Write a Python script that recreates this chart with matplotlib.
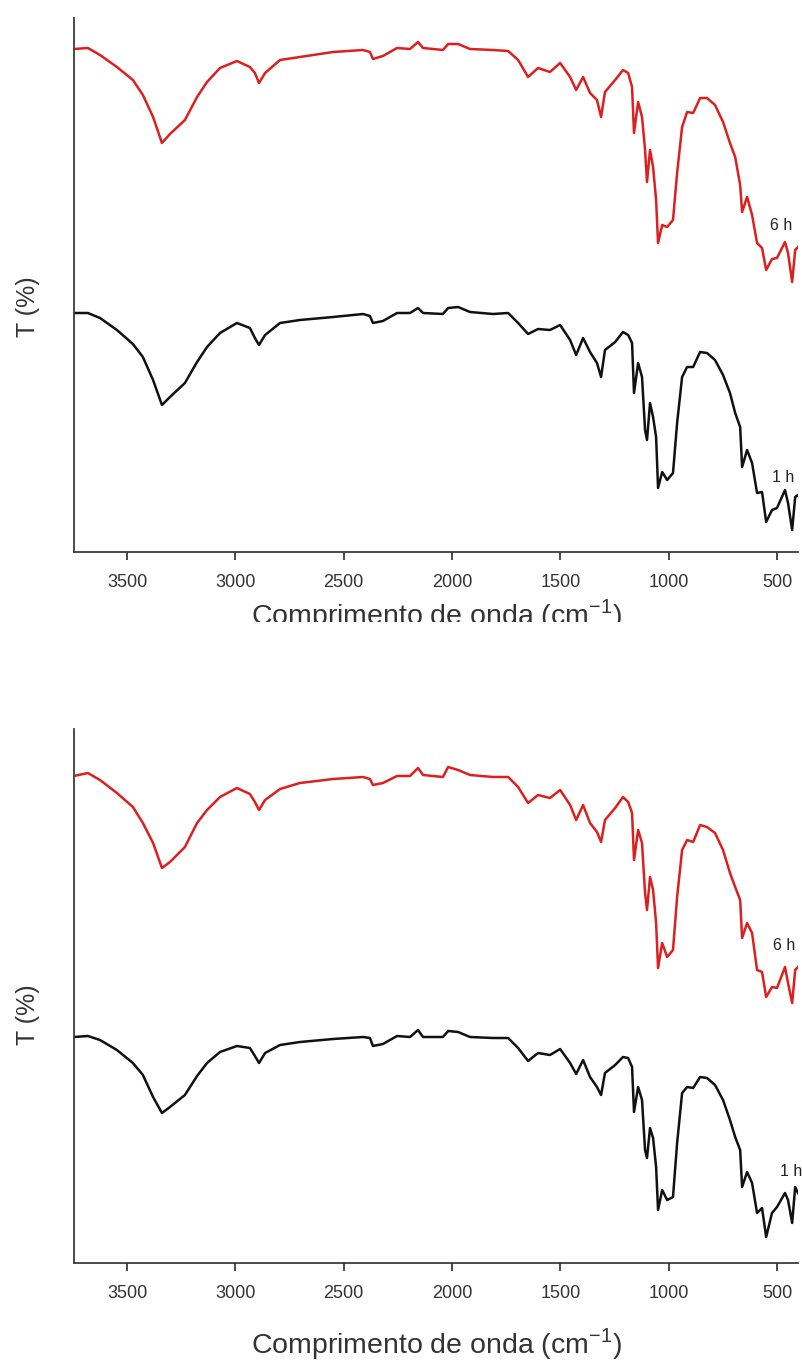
import matplotlib
matplotlib.use("Agg")
import matplotlib.pyplot as plt
from matplotlib.patches import Rectangle

plt.rcParams['font.family'] = ['Liberation Sans', 'DejaVu Sans']

# Wavenumber grid (cm^-1) shared by all spectra
wavenumber = [3745, 3681, 3625, 3547, 3473, 3427, 3380, 3339, 3302, 3233,
              3177, 3131, 3071, 2993, 2933, 2910, 2891, 2863, 2794, 2702,
              2549, 2411, 2379, 2365, 2319, 2254, 2194, 2157, 2134, 2042,
              2018, 1972, 1917, 1811, 1741, 1695, 1649, 1603, 1548, 1501,
              1455, 1427, 1395, 1363, 1331, 1312, 1294, 1247, 1211, 1187,
              1169, 1160, 1141, 1123, 1109, 1100, 1086, 1072, 1058, 1049,
              1030, 1007, 980, 961, 938, 915, 887, 855, 823, 786,
              749, 717, 693, 670, 661, 638, 615, 592, 569, 550,
              523, 500, 463, 449, 430, 416, 403]

# Upper panel (offset transmittance, arbitrary units)
t_6h_a = [100.6, 100.8, 99.4, 97.0, 94.4, 91.4, 87.0, 81.8, 83.6, 86.4,
          91.0, 94.0, 96.8, 98.2, 97.0, 95.8, 93.8, 95.8, 98.4, 99.0,
          100.0, 100.4, 100.0, 98.6, 99.2, 100.8, 100.6, 102.0, 100.8, 100.4,
          101.6, 101.6, 100.6, 100.4, 100.2, 98.4, 95.0, 96.8, 96.0, 97.8,
          95.0, 92.4, 95.0, 91.8, 90.4, 87.0, 92.0, 94.4, 96.4, 95.8,
          93.0, 83.8, 90.0, 87.0, 80.4, 74.0, 80.4, 77.0, 70.4, 61.8,
          65.4, 65.0, 66.4, 75.8, 85.0, 88.0, 87.8, 90.8, 90.8, 89.4,
          86.0, 81.8, 79.0, 73.4, 68.0, 71.0, 67.4, 61.8, 60.8, 56.4,
          58.6, 58.8, 62.0, 59.8, 54.0, 60.4, 61.0]

t_1h_a = [47.8, 47.8, 46.8, 44.4, 41.6, 39.0, 34.4, 29.4, 31.0, 33.8,
          38.0, 41.0, 43.8, 45.8, 44.8, 42.8, 41.4, 43.4, 45.8, 46.4,
          47.0, 47.6, 47.2, 45.8, 46.2, 47.8, 47.8, 48.8, 47.8, 47.6,
          48.8, 49.0, 48.0, 47.6, 47.8, 45.8, 43.6, 44.6, 44.4, 45.4,
          42.4, 39.4, 42.8, 40.0, 37.8, 35.0, 40.4, 42.0, 44.0, 43.4,
          41.8, 31.8, 37.8, 35.0, 24.4, 22.4, 29.8, 27.0, 23.0, 12.8,
          16.0, 14.4, 15.8, 25.8, 35.0, 37.0, 37.0, 40.0, 39.8, 38.4,
          35.4, 31.8, 27.8, 25.0, 17.0, 20.4, 17.8, 11.8, 12.0, 6.0,
          8.4, 8.8, 12.4, 9.8, 4.4, 11.0, 11.4]

# Lower panel
t_6h_b = [97.4, 98.0, 96.6, 94.0, 91.2, 88.0, 84.0, 79.0, 80.2, 83.2,
          88.0, 90.6, 93.2, 95.0, 93.8, 92.2, 90.6, 92.6, 94.8, 96.0,
          96.8, 97.2, 96.8, 95.6, 96.0, 97.4, 97.4, 99.0, 97.6, 97.2,
          99.2, 98.6, 97.6, 97.2, 97.2, 95.2, 92.0, 93.6, 93.0, 94.6,
          91.6, 88.6, 91.6, 88.0, 86.2, 84.2, 88.6, 91.0, 93.2, 92.2,
          90.0, 80.6, 86.6, 84.0, 74.0, 70.6, 77.2, 74.6, 68.0, 59.0,
          64.0, 61.2, 62.6, 73.2, 82.6, 84.6, 84.2, 87.6, 87.2, 86.0,
          82.6, 78.0, 75.2, 72.6, 65.0, 68.0, 66.0, 58.6, 58.2, 53.2,
          55.2, 55.0, 59.2, 56.0, 52.0, 58.6, 59.2]

t_1h_b = [45.2, 45.4, 44.6, 42.6, 40.0, 37.6, 33.2, 30.0, 31.2, 33.6,
          37.4, 40.0, 42.2, 43.4, 43.0, 41.4, 40.0, 42.0, 43.6, 44.2,
          44.8, 45.2, 45.0, 43.4, 43.8, 45.4, 45.2, 46.6, 45.2, 45.2,
          46.4, 46.2, 45.2, 45.0, 45.0, 43.0, 40.4, 42.0, 41.6, 42.8,
          40.0, 37.8, 40.6, 37.2, 35.2, 33.6, 38.0, 39.6, 41.2, 41.0,
          39.2, 30.2, 35.2, 32.6, 22.6, 21.0, 27.0, 25.0, 19.2, 10.6,
          14.6, 12.6, 13.2, 24.0, 34.0, 35.2, 35.0, 37.2, 37.0, 35.6,
          32.6, 28.6, 25.2, 22.6, 15.2, 18.2, 16.0, 10.0, 11.0, 5.2,
          10.0, 11.2, 14.0, 12.6, 8.0, 15.2, 14.0]

x_ticks = [3500, 3000, 2500, 2000, 1500, 1000, 500]
series_labels = ["6 h", "1 h"]

RED = '#dc1f1f'
BLACK = '#111111'
AXIS = '#3c3c3c'
TEXT = '#333333'

fig = plt.figure(figsize=(8.03, 13.63), dpi=100)
W, H = 803, 1363

panels = [
    dict(top=18, bottom=552, red=t_6h_a, black=t_1h_a,
         lab6=(532, 65.4), lab1=(523, 15.0), ytick=47.8,
         ylab_y=0.46, xlab_y=-0.0845),
    dict(top=729, bottom=1263, red=t_6h_b, black=t_1h_b,
         lab6=(518, 63.6), lab1=(486, 18.2), ytick=45.2,
         ylab_y=0.465, xlab_y=-0.118),
]

for p in panels:
    left, right = 74, 798
    ax = fig.add_axes([left / W, (H - p['bottom']) / H,
                       (right - left) / W, (p['bottom'] - p['top']) / H])
    ax.plot(wavenumber, p['red'], color=RED, lw=1.8, solid_joinstyle='round')
    ax.plot(wavenumber, p['black'], color=BLACK, lw=1.8, solid_joinstyle='round')
    ax.set_xlim(3745, 403)
    ax.set_ylim(0, 106.8)

    ax.text(p['lab6'][0], p['lab6'][1], series_labels[0], fontsize=11.5,
            color='#222222', ha='left', va='center', clip_on=False)
    ax.text(p['lab1'][0], p['lab1'][1], series_labels[1], fontsize=11.5,
            color='#222222', ha='left', va='center', clip_on=False)

    for s in ('top', 'right'):
        ax.spines[s].set_visible(False)
    for s in ('left', 'bottom'):
        ax.spines[s].set_color(AXIS)
        ax.spines[s].set_linewidth(1.3)

    ax.set_xticks(x_ticks)
    ax.set_xticklabels([str(v) for v in x_ticks])
    ax.tick_params(axis='x', direction='out', length=6, width=1.3,
                   color=AXIS, labelsize=13, pad=10, labelcolor=TEXT)
    ax.set_yticks([p['ytick']])
    ax.tick_params(axis='y', direction='in', length=4, width=1.3,
                   color=AXIS, labelleft=False)

    ax.set_xlabel("Comprimento de onda (cm$^{\\mathregular{-1}}$)",
                  fontsize=20.5, color=TEXT)
    ax.xaxis.set_label_coords(0.5, p['xlab_y'])
    ax.set_ylabel("T (%)", fontsize=18, color=TEXT)
    ax.yaxis.set_label_coords(-0.047, p['ylab_y'])

# the upper figure is trimmed just below its axis title
fig.patches.append(Rectangle((0, (H - 700) / H), 1, (700 - 622) / H,
                             transform=fig.transFigure, facecolor='white',
                             edgecolor='none', zorder=10))

fig.savefig("out.png", dpi=100, facecolor='white')
